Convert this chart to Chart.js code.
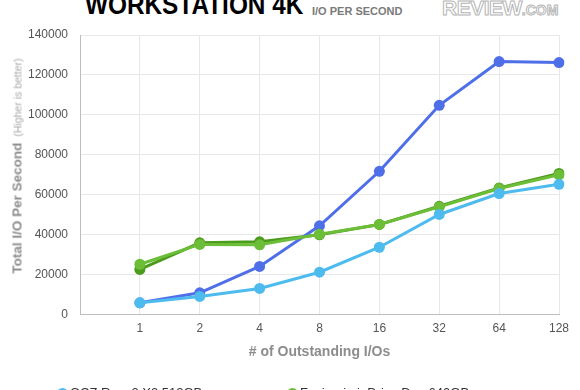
<!DOCTYPE html>
<html>
<head>
<meta charset="utf-8">
<script src="https://cdn.jsdelivr.net/npm/chart.js@4.4.1/dist/chart.umd.min.js"></script>
<style>
  html, body { margin: 0; padding: 0; background: #fff; overflow: hidden; }
  body { width: 580px; height: 390px; position: relative; font-family: "Liberation Sans", Arial, sans-serif; }
  #wrap { position: absolute; left: 0; top: 0; width: 580px; height: 390px; }
  .title { position: absolute; left: 85px; top: -11px; font-size: 28px; font-weight: bold; color: #000;
           white-space: nowrap; transform: scaleX(0.87); transform-origin: 0 0; }
  .subtitle { position: absolute; left: 312px; top: 5px; font-size: 11px; font-weight: bold; color: #7a7a7a; white-space: nowrap; }
  .logo { position: absolute; left: 442px; top: -4px; font-size: 21px; font-weight: bold; color: #fff;
          -webkit-text-stroke: 1px #b5b5b5; letter-spacing: -0.5px; white-space: nowrap; }
  .logo small { font-size: 14px; letter-spacing: 0; }
  .ytitle { position: absolute; left: 17px; top: 166px; transform: translate(-50%, -50%) rotate(-90deg);
            white-space: nowrap; font-size: 13.5px; font-weight: bold; color: #8c8c8c; }
  .ytitle span { font-weight: normal; font-size: 10.5px; color: #aaa; margin-left: 6px; }
  #legend { position: absolute; left: 0; top: 385px; width: 580px; }
  .item { position: absolute; font-size: 13px; color: #333; white-space: nowrap; }
  .item i { position: absolute; left: -13px; top: 3px; width: 11px; height: 11px; border-radius: 50%; }
</style>
</head>
<body>
<div class="title">WORKSTATION 4K</div>
<div class="subtitle">I/O PER SECOND</div>
<div class="logo">REVIEW<small>.COM</small></div>
<div id="wrap"><canvas id="c"></canvas></div>
<div class="ytitle">Total I/O Per Second<span>(Higher is better)</span></div>
<div id="legend"></div>
<script>
// x categories (the first is an empty slot left of "1")
const ioLabels = ["", "1", "2", "4", "8", "16", "32", "64", "128"];
const seriesNames = ["OCZ Revo3 X2 512GB", "Fusion-io ioDrive Duo 640GB", "OCZ Z-Drive R4 1.6TB", "Fusion-io ioDrive 320GB"];
const seriesColors = ["#4dbbee", "#6cbd38", "#4f6fe9", "#4c9b1c"];
const ocz512 = [null, 6000, 9200, 13200, 21300, 33800, 50200, 60700, 65300];
const fusionDuo = [null, 25300, 35200, 35000, 40300, 45200, 54000, 63200, 70000];
const ocz3 = [null, 6000, 11000, 24200, 44500, 71800, 104800, 126700, 126200];
const fusion4 = [null, 22700, 36000, 36500, 40000, 45200, 54300, 63500, 70700];
const yTicks = [0, 20000, 40000, 60000, 80000, 100000, 120000, 140000];

const values = [ocz512, fusionDuo, ocz3, fusion4];
const datasets = values.map((v, i) => ({
  label: seriesNames[i],
  data: v,
  borderColor: seriesColors[i],
  backgroundColor: seriesColors[i],
  pointBackgroundColor: seriesColors[i],
  pointBorderWidth: 0,
  pointRadius: 5.5,
  borderWidth: 3,
  tension: 0
}));

const ctx = document.getElementById("c").getContext("2d");
new Chart(ctx, {
  type: "line",
  data: { labels: ioLabels, datasets: datasets },
  options: {
    responsive: true,
    maintainAspectRatio: false,
    animation: false,
    layout: { padding: { top: 35, right: 21, bottom: 29, left: 0 } },
    plugins: { legend: { display: false }, tooltip: { enabled: false } },
    scales: {
      x: {
        offset: false,
        grid: { color: "#e8e8e8", drawTicks: false },
        border: { color: "#bdbdbd" },
        ticks: { color: "#555", padding: 7, font: { family: "Liberation Sans", size: 12 }, maxRotation: 0, autoSkip: false },
        title: { display: true, text: "# of Outstanding I/Os", color: "#8c8c8c", padding: { top: 1, bottom: 0 },
                 font: { family: "Liberation Sans", size: 14, weight: "bold" } }
      },
      y: {
        min: 0, max: 140000,
        afterFit: s => { s.width = 80; },
        afterBuildTicks: s => { s.ticks = yTicks.map(v => ({ value: v })); },
        grid: { color: "#e8e8e8", drawTicks: false },
        border: { color: "#bdbdbd" },
        ticks: { color: "#555", padding: 12, font: { family: "Liberation Sans", size: 12 }, callback: v => String(v) }
      }
    }
  }
});

// two-column legend below the chart
const leg = document.getElementById("legend");
seriesNames.forEach((n, i) => {
  const d = document.createElement("div");
  d.className = "item";
  d.style.left = (i % 2 ? 300 : 70) + "px";
  d.style.top = (Math.floor(i / 2) * 24) + "px";
  d.innerHTML = '<i style="background:' + seriesColors[i] + '"></i>' + n;
  leg.appendChild(d);
});
</script>
</body>
</html>
